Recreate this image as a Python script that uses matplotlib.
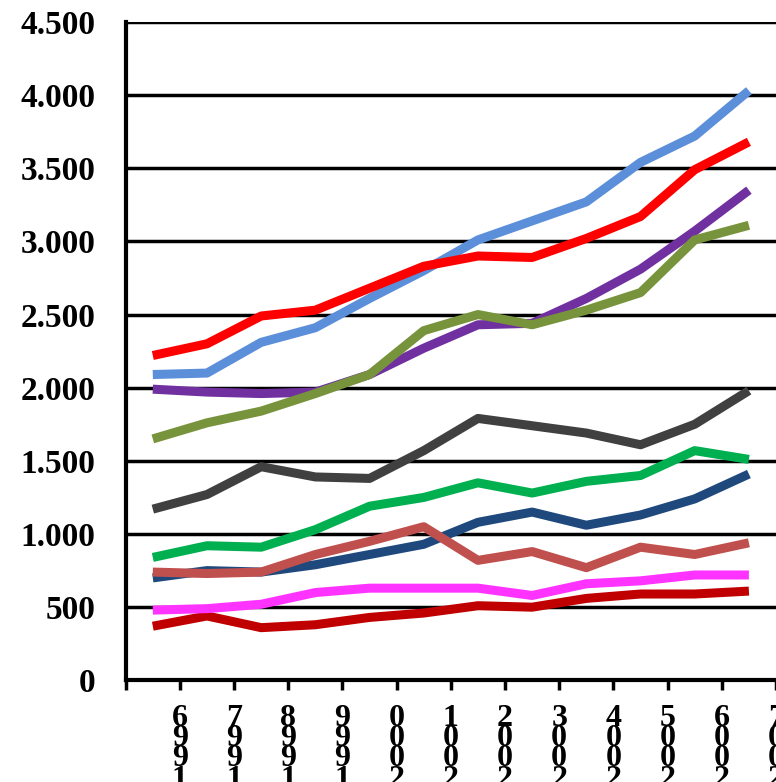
import matplotlib.pyplot as plt
import numpy as np

years = ["1996", "1997", "1998", "1999", "2000", "2001", "2002", "2003", "2004", "2005", "2006", "2007"]
light_blue = [2090, 2100, 2310, 2410, 2610, 2800, 3010, 3140, 3270, 3540, 3720, 4030]
red = [2220, 2300, 2490, 2530, 2680, 2830, 2900, 2890, 3020, 3170, 3490, 3680]
purple = [1990, 1970, 1960, 1970, 2090, 2270, 2430, 2440, 2610, 2810, 3070, 3350]
olive = [1650, 1760, 1840, 1960, 2090, 2390, 2500, 2430, 2530, 2650, 3010, 3110]
dark_grey = [1170, 1270, 1460, 1390, 1380, 1570, 1790, 1740, 1690, 1610, 1750, 1980]
green = [840, 920, 910, 1030, 1190, 1250, 1350, 1280, 1360, 1400, 1570, 1510]
navy = [700, 750, 740, 790, 860, 930, 1080, 1150, 1060, 1130, 1240, 1410]
brick = [740, 730, 740, 860, 950, 1050, 820, 880, 770, 910, 860, 940]
magenta = [480, 490, 520, 600, 630, 630, 630, 580, 660, 680, 720, 720]
dark_red = [370, 440, 360, 380, 430, 460, 510, 500, 560, 590, 590, 610]

series = [
    (dark_red, "#C00000"), (magenta, "#FF33FF"), (navy, "#1F497D"), (brick, "#C0504D"),
    (green, "#00B050"), (dark_grey, "#404040"), (purple, "#7030A0"), (olive, "#77933C"),
    (light_blue, "#5B8FD9"), (red, "#FF0000"),
]

plt.rcParams['font.family'] = ['Liberation Serif', 'DejaVu Serif']
fig = plt.figure(figsize=(7.76, 7.82), dpi=100)
ax = fig.add_axes([0.162, 0.130, 0.838, 0.842])

x = np.arange(len(years)) + 0.5
for vals, col in series:
    ax.plot(x, vals, color=col, lw=6.5, solid_capstyle="butt", zorder=3)

ax.set_ylim(0, 4500)
ax.set_xlim(0, 11.93)
ax.set_yticks(range(0, 4501, 500))
ax.set_yticklabels([f"{v:,}".replace(",", ".") for v in range(0, 4501, 500)],
                   fontsize=24, fontweight="bold")
for v in range(500, 4501, 500):
    ax.axhline(v, color="black", lw=2.5, zorder=1)

ax.set_xticks(np.arange(0, 13))
ax.set_xticklabels([])
ax.tick_params(axis="x", length=7, width=2.5, direction="out")
ax.tick_params(axis="y", length=0, pad=22)
for i, y in enumerate(years):
    ax.text(i + 1, -0.036, "\n".join(y[::-1]), transform=ax.get_xaxis_transform(),
            ha="center", va="top", fontsize=23, fontweight="bold", linespacing=0.6,
            clip_on=False)

for s in ["top", "right"]:
    ax.spines[s].set_visible(False)
ax.spines["left"].set_linewidth(3)
ax.spines["bottom"].set_linewidth(3)

fig.savefig("out.png", dpi=100)
